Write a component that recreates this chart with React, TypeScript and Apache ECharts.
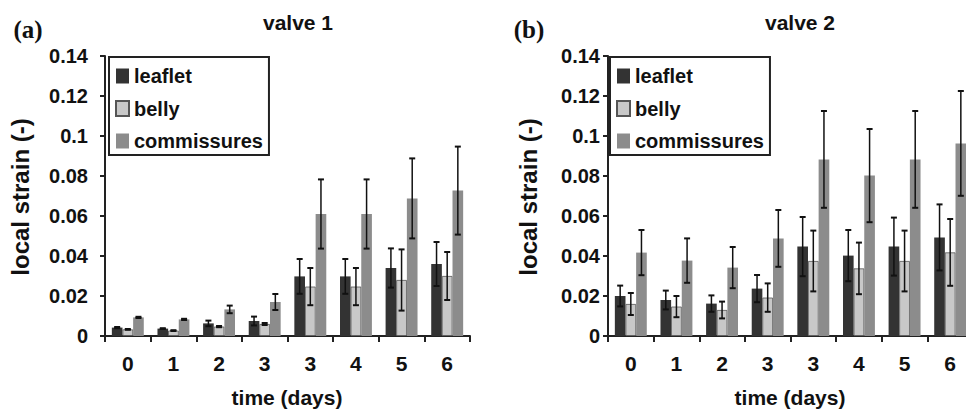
import React, { useEffect, useRef } from "react";
import * as echarts from "echarts";

const categories = ["0", "1", "2", "3", "3", "4", "5", "6"];
const seriesNames = ["leaflet", "belly", "commissures"];
const colors = ["#333333", "#c8c8c8", "#8c8c8c"];

// valve 1 (panel a)
const v1Leaflet = [0.0042, 0.0037, 0.0063, 0.0075, 0.0298, 0.0298, 0.034, 0.036];
const v1Belly = [0.0033, 0.0027, 0.0047, 0.006, 0.0247, 0.0247, 0.028, 0.03];
const v1Comm = [0.0093, 0.0083, 0.0133, 0.017, 0.061, 0.061, 0.0688, 0.0727];
const v1LeafletErr = [0.0003, 0.0002, 0.0014, 0.0022, 0.0087, 0.0087, 0.0098, 0.011];
const v1BellyErr = [0.0002, 0.0002, 0.0003, 0.0005, 0.0093, 0.0093, 0.0153, 0.012];
const v1CommErr = [0.0003, 0.0003, 0.0019, 0.004, 0.0173, 0.0173, 0.02, 0.022];

// valve 2 (panel b)
const v2Leaflet = [0.02, 0.018, 0.0162, 0.0237, 0.0447, 0.0402, 0.0447, 0.0493];
const v2Belly = [0.016, 0.0147, 0.013, 0.0192, 0.0375, 0.0338, 0.0375, 0.0418];
const v2Comm = [0.0417, 0.0377, 0.0342, 0.0488, 0.0883, 0.0802, 0.0883, 0.0963];
const v2LeafletErr = [0.0052, 0.0047, 0.0041, 0.0068, 0.0148, 0.0128, 0.0145, 0.0165];
const v2BellyErr = [0.0055, 0.0053, 0.0042, 0.0071, 0.0152, 0.0129, 0.0152, 0.0167];
const v2CommErr = [0.0113, 0.0111, 0.0103, 0.0142, 0.0242, 0.0233, 0.0242, 0.0262];

const yTicks = { min: 0, max: 0.14, interval: 0.02 };

const FONT = "'Liberation Sans', Arial, sans-serif";
const SERIF = "'Liberation Serif', 'Times New Roman', serif";
const CAT_GAP = 0.3;

function makeErrRenderer(offset: number) {
  return (params: any, api: any) => {
    const idx = api.value(0);
    const m = api.value(1);
    const e = api.value(2);
    const band = api.size([1, 0])[0];
    const bw = (band * (1 - CAT_GAP)) / 3;
    const cx = api.coord([idx, m])[0] + offset * bw;
    const top = api.coord([idx, m + e])[1];
    const bot = api.coord([idx, m - e])[1];
    const cap = 3;
    const st = { stroke: "#111", lineWidth: 1.5 };
    const capSt = { stroke: "#111", lineWidth: 2 };
    return {
      type: "group",
      children: [
        { type: "line", shape: { x1: cx, y1: top, x2: cx, y2: bot }, style: st },
        { type: "line", shape: { x1: cx - cap, y1: top, x2: cx + cap, y2: top }, style: capSt },
        { type: "line", shape: { x1: cx - cap, y1: bot, x2: cx + cap, y2: bot }, style: capSt },
      ],
    };
  };
}

export default function App() {
  const ref = useRef<HTMLDivElement>(null);
  useEffect(() => {
    if (!ref.current) return;
    const chart = echarts.init(ref.current, undefined, { renderer: "svg" });

    const panels = [
      { vals: [v1Leaflet, v1Belly, v1Comm], errs: [v1LeafletErr, v1BellyErr, v1CommErr], left: 105, labelMargin: 17 },
      { vals: [v2Leaflet, v2Belly, v2Comm], errs: [v2LeafletErr, v2BellyErr, v2CommErr], left: 608, labelMargin: 8 },
    ];

    const grids = panels.map((p) => ({
      left: p.left,
      top: 56,
      width: 365,
      height: 280,
      containLabel: false,
      outerBoundsMode: "none",
    }));
    const xAxes = panels.map((p, i) => ({
      type: "category",
      gridIndex: i,
      data: categories,
      axisLine: { lineStyle: { color: "#222", width: 2 } },
      axisTick: { show: true, length: 6, interval: 0, lineStyle: { color: "#222", width: 2 } },
      axisLabel: { fontFamily: FONT, fontWeight: "bold", fontSize: 21, color: "#111", margin: 17, interval: 0 },
    }));
    const yAxes = panels.map((p, i) => ({
      type: "value",
      gridIndex: i,
      min: yTicks.min,
      max: yTicks.max,
      interval: yTicks.interval,
      splitLine: { show: false },
      axisLine: { show: true, lineStyle: { color: "#222", width: 2 } },
      axisTick: { show: true, length: 5, lineStyle: { color: "#222", width: 2 } },
      axisLabel: {
        fontFamily: FONT,
        fontWeight: "bold",
        fontSize: 20,
        color: "#111",
        margin: p.labelMargin,
        formatter: (v: number) => String(+v.toFixed(2)),
      },
    }));

    const series: any[] = [];
    panels.forEach((p, pi) => {
      p.vals.forEach((vals, si) => {
        series.push({
          type: "bar",
          name: seriesNames[si],
          xAxisIndex: pi,
          yAxisIndex: pi,
          data: vals,
          barGap: "0%",
          barCategoryGap: CAT_GAP * 100 + "%",
          itemStyle: {
            color: colors[si],
            borderColor: si === 1 ? "#555" : colors[si],
            borderWidth: si === 1 ? 0.8 : 0,
          },
        });
      });
    });
    panels.forEach((p, pi) => {
      p.vals.forEach((vals, si) => {
        series.push({
          type: "custom",
          name: seriesNames[si] + " error",
          xAxisIndex: pi,
          yAxisIndex: pi,
          renderItem: makeErrRenderer(si - 1),
          encode: { x: 0, y: 1 },
          data: vals.map((v, k) => [k, v, p.errs[si][k]]),
          z: 5,
        });
      });
    });

    const legends = [
      { left: 109, top: 57 },
      { left: 610, top: 57 },
    ].map((pos) => ({
      ...pos,
      orient: "vertical",
      data: seriesNames,
      icon: "rect",
      itemWidth: 13,
      itemHeight: 15,
      itemGap: 12.5,
      padding: [9, 6, 4, 6],
      borderColor: "#222",
      borderWidth: 2,
      selectedMode: false,
      textStyle: { fontFamily: FONT, fontWeight: "bold", fontSize: 20, color: "#111", padding: [0, 0, 0, 0] },
    }));

    const txt = (x: number, y: number, text: string, font: any, extra: any = {}) => ({
      type: "text",
      x,
      y,
      ...extra,
      style: { text, fill: "#111", textAlign: "center", textVerticalAlign: "middle", ...font },
    });
    const bold20 = { fontFamily: FONT, fontWeight: "bold", fontSize: 20 };

    chart.setOption({
      animation: false,
      backgroundColor: "#fff",
      grid: grids,
      xAxis: xAxes,
      yAxis: yAxes,
      legend: legends,
      series,
      graphic: [
        txt(28, 29, "(a)", { fontFamily: SERIF, fontWeight: "bold", fontSize: 25 }),
        txt(529, 29, "(b)", { fontFamily: SERIF, fontWeight: "bold", fontSize: 25 }),
        txt(298, 22, "valve 1", { ...bold20, fontSize: 21 }),
        txt(800, 22, "valve 2", { ...bold20, fontSize: 21 }),
        txt(287, 397, "time (days)", { ...bold20, fontSize: 21 }),
        txt(790, 397, "time (days)", { ...bold20, fontSize: 21 }),
        txt(20, 197, "local strain (-)", { ...bold20, fontSize: 24 }, { rotation: Math.PI / 2 }),
        txt(528, 197, "local strain (-)", { ...bold20, fontSize: 24 }, { rotation: Math.PI / 2 }),
      ],
    });
    return () => chart.dispose();
  }, []);
  return (
    <div
      ref={ref}
      style={{ position: "absolute", left: 0, top: 0, width: 966, height: 413 }}
    />
  );
}
